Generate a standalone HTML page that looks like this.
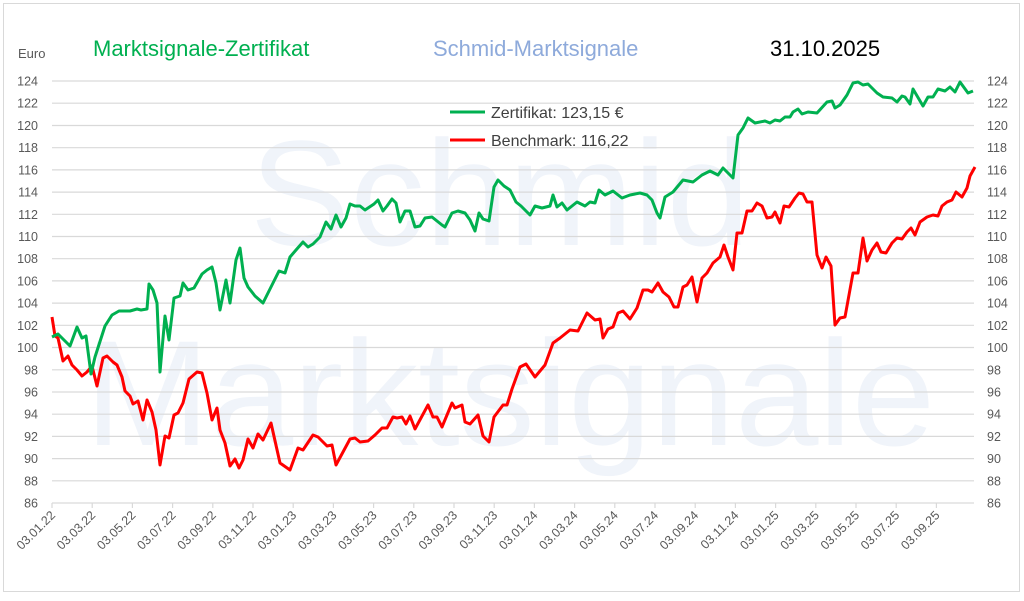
<!DOCTYPE html>
<html><head><meta charset="utf-8"><style>
body{margin:0;background:#fff;}
svg text{font-family:"Liberation Sans",sans-serif;}
</style></head><body>
<svg width="1024" height="596" viewBox="0 0 1024 596" xmlns="http://www.w3.org/2000/svg">
<rect x="0" y="0" width="1024" height="596" fill="#fff"/>
<rect x="3.5" y="3.5" width="1016" height="588" fill="none" stroke="#d9d9d9"/>
<text x="500" y="245" font-size="150" fill="#f0f4fa" text-anchor="middle">Schmid</text>
<text x="510" y="445" font-size="150" fill="#f0f4fa" text-anchor="middle">Marktsignale</text>
<g stroke="#d9d9d9" stroke-width="1.2">
<line x1="52" x2="974" y1="503" y2="503"/><line x1="52" x2="974" y1="480.8" y2="480.8"/><line x1="52" x2="974" y1="458.6" y2="458.6"/><line x1="52" x2="974" y1="436.4" y2="436.4"/><line x1="52" x2="974" y1="414.2" y2="414.2"/><line x1="52" x2="974" y1="392" y2="392"/><line x1="52" x2="974" y1="369.8" y2="369.8"/><line x1="52" x2="974" y1="347.5" y2="347.5"/><line x1="52" x2="974" y1="325.3" y2="325.3"/><line x1="52" x2="974" y1="303.1" y2="303.1"/><line x1="52" x2="974" y1="280.9" y2="280.9"/><line x1="52" x2="974" y1="258.7" y2="258.7"/><line x1="52" x2="974" y1="236.5" y2="236.5"/><line x1="52" x2="974" y1="214.3" y2="214.3"/><line x1="52" x2="974" y1="192.1" y2="192.1"/><line x1="52" x2="974" y1="169.9" y2="169.9"/><line x1="52" x2="974" y1="147.7" y2="147.7"/><line x1="52" x2="974" y1="125.5" y2="125.5"/><line x1="52" x2="974" y1="103.2" y2="103.2"/><line x1="52" x2="974" y1="81" y2="81"/>
<line x1="52" x2="52" y1="503" y2="508"/><line x1="92.2" x2="92.2" y1="503" y2="508"/><line x1="132.4" x2="132.4" y1="503" y2="508"/><line x1="172.6" x2="172.6" y1="503" y2="508"/><line x1="212.8" x2="212.8" y1="503" y2="508"/><line x1="253" x2="253" y1="503" y2="508"/><line x1="293.2" x2="293.2" y1="503" y2="508"/><line x1="333.4" x2="333.4" y1="503" y2="508"/><line x1="373.6" x2="373.6" y1="503" y2="508"/><line x1="413.8" x2="413.8" y1="503" y2="508"/><line x1="454" x2="454" y1="503" y2="508"/><line x1="494.2" x2="494.2" y1="503" y2="508"/><line x1="534.4" x2="534.4" y1="503" y2="508"/><line x1="574.6" x2="574.6" y1="503" y2="508"/><line x1="614.8" x2="614.8" y1="503" y2="508"/><line x1="655" x2="655" y1="503" y2="508"/><line x1="695.2" x2="695.2" y1="503" y2="508"/><line x1="735.4" x2="735.4" y1="503" y2="508"/><line x1="775.6" x2="775.6" y1="503" y2="508"/><line x1="815.8" x2="815.8" y1="503" y2="508"/><line x1="856" x2="856" y1="503" y2="508"/><line x1="896.2" x2="896.2" y1="503" y2="508"/><line x1="936.4" x2="936.4" y1="503" y2="508"/>
</g>
<g font-size="12.5" fill="#595959" text-anchor="end">
<text x="38" y="507.5">86</text><text x="38" y="485.3">88</text><text x="38" y="463.1">90</text><text x="38" y="440.9">92</text><text x="38" y="418.7">94</text><text x="38" y="396.5">96</text><text x="38" y="374.3">98</text><text x="38" y="352">100</text><text x="38" y="329.8">102</text><text x="38" y="307.6">104</text><text x="38" y="285.4">106</text><text x="38" y="263.2">108</text><text x="38" y="241">110</text><text x="38" y="218.8">112</text><text x="38" y="196.6">114</text><text x="38" y="174.4">116</text><text x="38" y="152.2">118</text><text x="38" y="130">120</text><text x="38" y="107.7">122</text><text x="38" y="85.5">124</text>
</g>
<g font-size="12.5" fill="#595959">
<text x="987" y="507.5">86</text><text x="987" y="485.3">88</text><text x="987" y="463.1">90</text><text x="987" y="440.9">92</text><text x="987" y="418.7">94</text><text x="987" y="396.5">96</text><text x="987" y="374.3">98</text><text x="987" y="352">100</text><text x="987" y="329.8">102</text><text x="987" y="307.6">104</text><text x="987" y="285.4">106</text><text x="987" y="263.2">108</text><text x="987" y="241">110</text><text x="987" y="218.8">112</text><text x="987" y="196.6">114</text><text x="987" y="174.4">116</text><text x="987" y="152.2">118</text><text x="987" y="130">120</text><text x="987" y="107.7">122</text><text x="987" y="85.5">124</text>
</g>
<g font-size="12.5" fill="#595959" text-anchor="end">
<text transform="translate(56,516) rotate(-45)">03.01.22</text>
<text transform="translate(96.2,516) rotate(-45)">03.03.22</text>
<text transform="translate(136.4,516) rotate(-45)">03.05.22</text>
<text transform="translate(176.6,516) rotate(-45)">03.07.22</text>
<text transform="translate(216.8,516) rotate(-45)">03.09.22</text>
<text transform="translate(257,516) rotate(-45)">03.11.22</text>
<text transform="translate(297.2,516) rotate(-45)">03.01.23</text>
<text transform="translate(337.4,516) rotate(-45)">03.03.23</text>
<text transform="translate(377.6,516) rotate(-45)">03.05.23</text>
<text transform="translate(417.8,516) rotate(-45)">03.07.23</text>
<text transform="translate(458,516) rotate(-45)">03.09.23</text>
<text transform="translate(498.2,516) rotate(-45)">03.11.23</text>
<text transform="translate(538.4,516) rotate(-45)">03.01.24</text>
<text transform="translate(578.6,516) rotate(-45)">03.03.24</text>
<text transform="translate(618.8,516) rotate(-45)">03.05.24</text>
<text transform="translate(659,516) rotate(-45)">03.07.24</text>
<text transform="translate(699.2,516) rotate(-45)">03.09.24</text>
<text transform="translate(739.4,516) rotate(-45)">03.11.24</text>
<text transform="translate(779.6,516) rotate(-45)">03.01.25</text>
<text transform="translate(819.8,516) rotate(-45)">03.03.25</text>
<text transform="translate(860,516) rotate(-45)">03.05.25</text>
<text transform="translate(900.2,516) rotate(-45)">03.07.25</text>
<text transform="translate(940.4,516) rotate(-45)">03.09.25</text>
</g>
<text x="18" y="58" font-size="13" fill="#595959">Euro</text>
<text x="93" y="56" font-size="22" fill="#00b050">Marktsignale-Zertifikat</text>
<text x="433" y="56" font-size="22" fill="#8eaadb">Schmid-Marktsignale</text>
<text x="770" y="56" font-size="22" fill="#000">31.10.2025</text>
<line x1="450" y1="112" x2="485" y2="112" stroke="#00b050" stroke-width="3"/>
<text x="491" y="118" font-size="16" fill="#404040">Zertifikat: 123,15 €</text>
<line x1="450" y1="140" x2="485" y2="140" stroke="#ff0000" stroke-width="3"/>
<text x="491" y="146" font-size="16" fill="#404040">Benchmark: 116,22</text>
<polyline fill="none" stroke="#ff0000" stroke-width="3" stroke-linejoin="round" points="52,317 55,336 58,338 63,361 68,356 72,365 77,370 82,376 87,372 92,366 97,386 103,358 107,356 113,362 117,365 122,377 125,391 130,396 133,404 138,401 143,420 147,400 152,412 156,430 160,465 165,436 169,438 174,415 178,413 183,403 189,379 197,372 202,373 207,393 212,420 217,408 220,430 225,443 230,466 235,459 239,468 243,460 248,439 253,448 258,434 263,440 271,423 280,463 290,470 298,448 303,450 313,435 318,437 327,446 332,445 336,465 350,439 355,438 360,442 368,441 375,435 382,428 387,428 393,417 397,418 402,417 406,424 410,416 415,429 428,405 433,417 437,417 442,427 452,403 455,408 462,405 465,422 470,424 478,415 483,436 489,442 494,417 503,405 507,405 512,389 520,367 526,364 535,377 545,365 553,343 560,338 570,330 578,331 587,313 595,320 600,319 603,338 608,329 613,327 618,313 623,311 630,319 637,308 643,290 648,290 652,292 658,283 663,292 669,297 674,307 678,307 683,287 687,285 692,277 697,302 702,278 707,273 713,263 720,257 724,245 728,257 733,270 737,233 742,233 747,211 752,211 757,203 762,206 767,218 772,217 775,212 780,223 784,206 789,207 795,198 799,193 803,194 807,202 812,202 817,255 822,268 826,257 831,266 835,325 840,318 845,317 853,273 858,273 863,238 867,261 872,250 877,243 881,252 886,253 892,243 897,238 902,239 907,232 911,228 915,235 920,222 927,217 933,215 938,216 942,206 947,202 952,200 956,192 962,197 967,188 970,176 975,167"/>
<polyline fill="none" stroke="#00b050" stroke-width="3" stroke-linejoin="round" points="52,337 58,334 70,346 77,327 82,338 86,336 91,374 95,357 105,326 112,315 119,311 130,311 137,309 141,310 147,309 149,284 153,290 157,303 160,372 165,316 169,340 174,298 180,296 183,283 188,290 194,288 202,274 207,270 212,267 216,283 220,310 226,280 230,303 236,260 240,248 244,278 248,287 255,296 263,303 268,293 279,271 285,273 290,257 296,250 303,242 308,247 313,244 320,237 326,222 331,229 336,215 341,227 346,218 350,204 355,206 360,206 365,210 374,204 378,200 383,211 387,206 392,199 396,203 400,222 405,211 410,211 415,227 420,226 425,218 432,217 442,225 445,227 452,213 458,211 465,213 470,220 475,231 479,213 483,219 489,221 494,187 498,180 504,186 510,190 516,202 521,206 530,215 535,206 542,208 550,206 553,195 557,207 562,203 567,210 577,202 585,206 590,202 595,203 599,190 605,195 613,191 622,198 630,195 640,193 647,195 652,200 657,213 660,218 665,197 673,192 683,180 693,182 702,175 710,171 718,175 723,168 733,178 738,135 743,128 748,118 755,123 765,121 770,123 775,120 780,121 785,117 790,117 793,112 798,109 802,114 808,112 817,113 827,102 832,101 835,108 840,105 847,95 853,83 858,82 863,85 868,84 877,93 883,97 892,98 897,102 902,96 905,97 910,104 913,89 923,106 928,97 933,97 938,89 945,91 950,87 955,92 960,82 968,93 973,91"/>
</svg>
</body></html>
